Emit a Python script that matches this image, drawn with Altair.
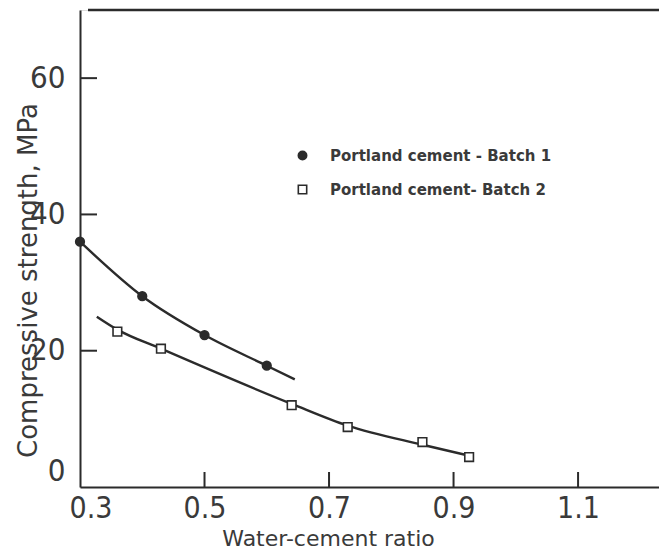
import altair as alt
import pandas as pd

# ---- data ----
series_names = ["Portland cement - Batch 1", "Portland cement- Batch 2"]

b1_x = [0.30, 0.40, 0.50, 0.60]
b1_y = [36.0, 28.0, 22.3, 17.8]

b2_x = [0.36, 0.43, 0.64, 0.73, 0.85, 0.925]
b2_y = [22.8, 20.3, 12.0, 8.8, 6.6, 4.4]

# fitted curves
c1_x = [0.30, 0.40, 0.50, 0.60, 0.645]
c1_y = [36.0, 28.0, 22.3, 17.8, 15.8]
c2_x = [0.327, 0.36, 0.43, 0.64, 0.73, 0.85, 0.925]
c2_y = [25.0, 23.1, 20.3, 12.2, 9.0, 6.2, 4.6]

x_ticks = [0.3, 0.5, 0.7, 0.9, 1.1]
y_ticks = [0, 20, 40, 60]
x_inner_ticks = [0.5, 0.7, 0.9, 1.1]
y_inner_ticks = [20, 40, 60]
x_domain = [0.3, 1.23]
y_domain = [0, 70]

# ---- tables ----
pts = pd.DataFrame(
    [{"x": x, "y": y, "series": series_names[0]} for x, y in zip(b1_x, b1_y)]
    + [{"x": x, "y": y, "series": series_names[1]} for x, y in zip(b2_x, b2_y)]
)
curves = pd.DataFrame(
    [{"x": x, "y": y, "series": series_names[0]} for x, y in zip(c1_x, c1_y)]
    + [{"x": x, "y": y, "series": series_names[1]} for x, y in zip(c2_x, c2_y)]
)
xt = pd.DataFrame({"v": x_inner_ticks})
yt = pd.DataFrame({"v": y_inner_ticks})

INK = "#2b2b2b"
TXT = "#3a3a3a"
W, H = 579, 477
NUMFONT = "Liberation Sans Narrow, Arial Narrow, DejaVu Sans Condensed, sans-serif"

xscale = alt.Scale(domain=x_domain, nice=False, zero=False)
yscale = alt.Scale(domain=y_domain, nice=False, zero=True)

x_enc = alt.X(
    "x:Q",
    scale=xscale,
    axis=alt.Axis(
        values=x_ticks,
        format=".1f",
        grid=False,
        ticks=False,
        domainColor=INK,
        domainWidth=2,
        labelFont=NUMFONT,
        labelFontSize=30,
        labelColor=TXT,
        labelPadding=6,
        labelFlush=True,
        labelFlushOffset=11,
        title="Water-cement ratio",
        titleFont="DejaVu Sans",
        titleFontSize=22,
        titleFontWeight="normal",
        titleColor=TXT,
        titleX=248,
        titleY=58,
        titleAlign="center",
        titleBaseline="alphabetic",
        titleAnchor="start",
    ),
)
y_enc = alt.Y(
    "y:Q",
    scale=yscale,
    axis=alt.Axis(
        values=y_ticks,
        grid=False,
        ticks=False,
        domainColor=INK,
        domainWidth=2,
        labelFont=NUMFONT,
        labelFontSize=31,
        labelColor=TXT,
        labelPadding=15,
        labelFlush=True,
        title="Compressive strength, MPa",
        titleFont="DejaVu Sans",
        titleFontSize=26,
        titleFontWeight="normal",
        titleColor=TXT,
        titleAngle=270,
        titleX=-52,
        titleY=270,
        titleAlign="center",
        titleBaseline="middle",
        titleAnchor="start",
    ),
)

lines = (
    alt.Chart(curves)
    .mark_line(color=INK, strokeWidth=2.4, interpolate="monotone")
    .encode(x=x_enc, y=y_enc, detail="series:N")
)

leg = alt.Legend(
    title=None,
    orient="none",
    legendX=215,
    legendY=138,
    padding=0,
    labelFont="DejaVu Sans",
    labelFontSize=15,
    labelFontWeight="bold",
    labelColor=TXT,
    labelOffset=20,
    labelLimit=0,
    rowPadding=18,
    symbolSize=70,
    symbolStrokeColor=INK,
    symbolStrokeWidth=1.6,
)

points = (
    alt.Chart(pts)
    .mark_point(size=75, strokeWidth=1.6, opacity=1, filled=False)
    .encode(
        x=alt.X("x:Q", scale=xscale),
        y=alt.Y("y:Q", scale=yscale),
        shape=alt.Shape(
            "series:N",
            scale=alt.Scale(domain=series_names, range=["circle", "square"]),
            legend=leg,
        ),
        fill=alt.Fill(
            "series:N",
            scale=alt.Scale(domain=series_names, range=[INK, "white"]),
            legend=leg,
        ),
        stroke=alt.Stroke(
            "series:N",
            scale=alt.Scale(domain=series_names, range=[INK, INK]),
            legend=leg,
        ),
    )
)

x_in_ticks = (
    alt.Chart(xt)
    .mark_rule(color=INK, strokeWidth=2)
    .encode(x=alt.X("v:Q", scale=xscale), y=alt.value(H), y2=alt.value(H - 15))
)
y_in_ticks = (
    alt.Chart(yt)
    .mark_rule(color=INK, strokeWidth=2)
    .encode(y=alt.Y("v:Q", scale=yscale), x=alt.value(0), x2=alt.value(17))
)
top_line = (
    alt.Chart(pd.DataFrame({"v": [y_domain[1]]}))
    .mark_rule(color=INK, strokeWidth=2.5)
    .encode(y=alt.Y("v:Q", scale=yscale), x=alt.value(8), x2=alt.value(W))
)

chart = (
    alt.layer(top_line, x_in_ticks, y_in_ticks, lines, points)
    .properties(
        width=W,
        height=H,
        autosize=alt.AutoSizeParams(type="none"),
        padding={"left": 72, "top": 2, "right": 0, "bottom": 64},
    )
    .configure_view(stroke=None)
    .configure(background="white")
)

chart.save("out.html", embed_options={"renderer": "svg", "actions": False})
